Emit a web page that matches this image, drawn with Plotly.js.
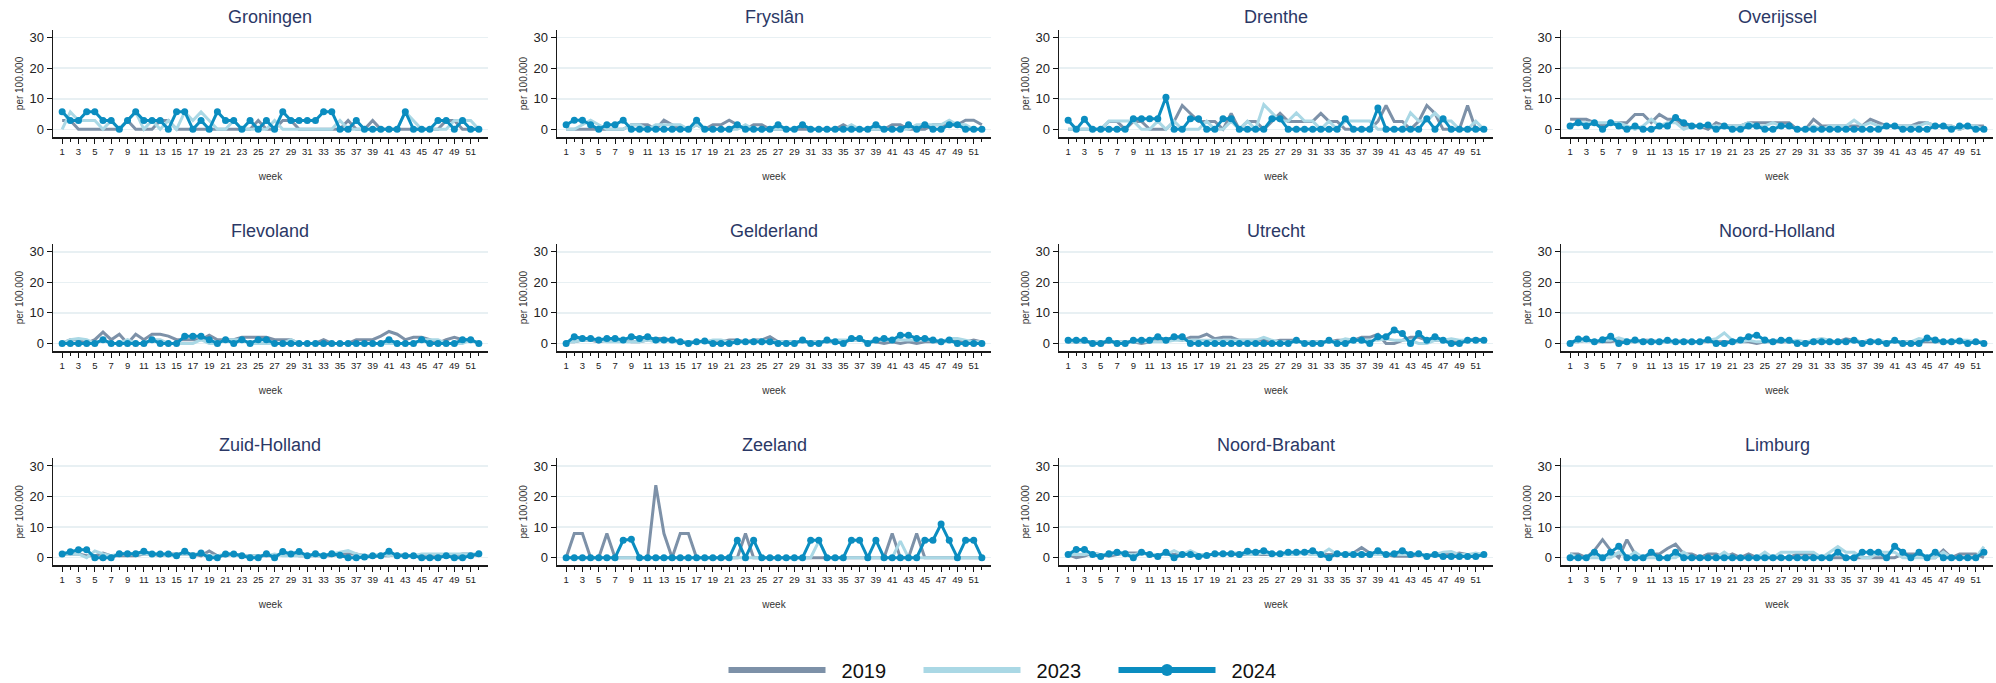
<!DOCTYPE html>
<html>
<head>
<meta charset="utf-8">
<script src="https://cdn.plot.ly/plotly-3.0.1.min.js"></script>
<style>
  html, body { margin: 0; padding: 0; background: #fff; }
  #chart { width: 1996px; height: 683px; }
</style>
</head>
<body>
<div id="chart"></div>
<script>
// ---------------- DATA ----------------
const weeks = [1,2,3,4,5,6,7,8,9,10,11,12,13,14,15,16,17,18,19,20,21,22,23,24,25,26,27,28,29,30,31,32,33,34,35,36,37,38,39,40,41,42,43,44,45,46,47,48,49,50,51,52];
const majorTickWeeks = [1,3,5,7,9,11,13,15,17,19,21,23,25,27,29,31,33,35,37,39,41,43,45,47,49,51];
const minorTickWeeks = [2,4,6,8,10,12,14,16,18,20,22,24,26,28,30,32,34,36,38,40,42,44,46,48,50,52];
const yTicks = [0, 10, 20, 30];
const years = ['2019', '2023', '2024'];
const regions = ['Groningen','Fryslân','Drenthe','Overijssel','Flevoland','Gelderland','Utrecht','Noord-Holland','Zuid-Holland','Zeeland','Noord-Brabant','Limburg'];

const groningen2019 = [2.9,2.9,0,0,0,0,0,0,2.9,0,0,0,2.9,2.9,0,0,0,0,0,0,0,0,0,0,2.9,0,0,2.9,2.9,0,0,0,0,0,0,2.9,0,0,2.9,0,0,0,0,0,0,0,0,2.9,2.9,0,0,0];
const groningen2023 = [0,5.7,2.9,2.9,2.9,0,2.9,0,2.9,5.7,0,2.9,0,2.9,0,5.7,2.9,5.7,2.9,0,0,2.9,0,0,0,0,2.9,0,0,0,0,0,0,0,2.9,0,0,0,0,0,0,0,5.7,2.9,0,0,0,0,2.9,2.9,2.9,0];
const groningen2024 = [5.8,2.9,2.9,5.8,5.8,2.9,2.9,0,2.9,5.8,2.9,2.9,2.9,0,5.8,5.8,0,2.9,0,5.8,2.9,2.9,0,2.9,0,2.9,0,5.8,2.9,2.9,2.9,2.9,5.8,5.8,0,0,2.9,0,0,0,0,0,5.8,0,0,0,2.9,2.9,0,2.9,0,0];

const fryslan2019 = [0,0,0,0,0,0,0,0,1.5,1.5,1.5,0,3.0,1.5,0,0,1.5,0,1.5,1.5,3.0,1.5,0,1.5,1.5,0,0,0,0,0,0,0,0,0,1.5,0,0,0,0,0,1.5,1.5,0,0,0,1.5,1.5,1.5,1.5,3.0,3.0,1.5];
const fryslan2023 = [0,0,1.5,3.0,1.5,0,0,0,1.5,1.5,0,1.5,1.5,1.5,1.5,0,1.5,0,0,0,0,0,1.5,0,0,0,0,0,0,1.5,0,0,0,0,0,1.5,0,0,0,0,0,0,0,1.5,1.5,1.5,1.5,3.0,1.5,1.5,0,0];
const fryslan2024 = [1.5,3.0,3.0,1.5,0,1.5,1.5,3.0,0,0,0,0,0,0,0,0,3.0,0,0,0,0,1.5,0,0,0,0,1.5,0,0,1.5,0,0,0,0,0,0,0,0,1.5,0,0,0,1.5,0,1.5,0,0,1.5,1.5,0,0,0];

const drenthe2019 = [0,0,0,0,0,2.6,2.6,0,2.6,2.6,0,0,0,2.6,7.8,5.2,2.6,2.6,2.6,0,5.2,0,2.6,2.6,0,2.6,5.2,2.6,2.6,2.6,2.6,5.2,2.6,2.6,0,0,0,0,2.6,7.8,2.6,2.6,0,2.6,7.8,5.2,0,0,0,7.8,0,0];
const drenthe2023 = [0,0,0,0,0,2.7,2.7,2.7,2.7,0,0,2.7,0,2.7,0,0,0,2.7,0,0,2.7,0,2.7,0,8.1,5.4,2.7,2.7,5.4,2.7,2.7,0,2.7,0,2.7,2.7,2.7,2.7,0,0,0,0,5.4,2.7,2.7,5.4,2.7,2.7,0,0,2.7,0];
const drenthe2024 = [3.0,0,3.3,0,0,0,0,0,3.5,3.5,3.5,3.5,10.5,0,0,3.5,3.5,0,0,3.5,3.5,0,0,0,0,3.5,3.5,0,0,0,0,0,0,0,3.5,0,0,0,7.0,0,0,0,0,0,3.5,0,3.5,0,0,0,0,0];

const overijssel2019 = [3.3,3.3,3.3,2.2,1.1,2.2,2.2,2.2,4.9,4.9,2.2,4.9,3.3,3.3,1.1,1.1,1.1,0,2.2,1.1,1.1,1.1,2.2,2.2,2.2,2.2,2.2,2.2,0,0,3.3,1.1,1.1,1.1,1.1,1.1,1.1,3.3,2.2,1.1,1.1,1.1,1.1,2.2,2.2,1.1,1.1,1.1,0,1.1,1.1,1.1];
const overijssel2023 = [1.1,2.2,2.2,2.2,2.2,2.2,2.2,1.1,0,1.1,3.3,1.1,2.2,2.2,0,1.1,1.1,1.1,1.1,1.1,1.1,1.1,2.2,1.1,1.1,2.2,1.1,1.1,0,0,1.1,0,1.1,1.1,1.1,3.0,1.1,2.2,1.1,1.1,1.1,1.1,1.1,1.1,2.2,1.1,1.1,1.1,0,1.1,1.1,0];
const overijssel2024 = [1.1,2.2,1.1,2.2,0,2.2,1.1,0,1.1,0,0,1.1,1.1,3.9,2.2,1.1,1.1,1.4,0,1.1,0,0,1.1,1.1,0,0,1.1,1.1,0,0,0,0,0,0,0,0,0,0,0,1.1,1.1,0,0,0,0,1.1,1.1,0,1.1,1.1,0,0];

const flevoland2019 = [0,1.2,1.2,0,1.2,3.7,1.2,3.0,0,3.0,1.2,3.0,3.0,2.4,1.2,1.2,1.2,1.2,2.7,1.2,1.2,1.2,2.0,2.0,2.0,2.0,1.2,1.2,1.2,0,0,0,1.2,0,0,0,1.2,1.2,1.2,2.4,3.9,3.0,1.2,2.0,2.0,1.2,0,1.2,2.0,1.2,1.2,0];
const flevoland2023 = [0,1.2,1.6,1.2,0,1.2,0,0,1.2,0,0,1.2,1.2,0,0,0,0,1.2,0,0,1.2,1.2,1.2,0,0,0,0,0,1.2,0,0,0,0,0,0,0,0,0,0,0,0,0,0,0,1.2,1.2,1.2,0,0,0,1.2,0];
const flevoland2024 = [0,0,0,0,0,1.2,0,0,0,0,0,1.2,0,0,0,2.3,2.3,2.3,1.2,0,1.2,0,1.2,0,1.2,1.2,0,0,0,0,0,0,0,0,0,0,0,0,0,0,1.2,0,0,0,1.2,0,0,0,0,1.2,1.2,0];

const gelderland2019 = [0.5,0.5,1.1,1.1,0.5,1.1,1.1,1.1,0.5,0.5,1.1,1.6,1.6,1.1,0.5,0.5,0.5,0.5,0.5,0.5,1.1,1.1,0.5,1.1,1.1,2.2,0.5,0.5,0.5,0.5,0.5,0.5,0.5,0.5,0.5,1.1,1.1,0.5,0.5,0,0.5,0,0.5,0,0.5,0.5,0.5,1.1,1.1,0.5,1.1,0.5];
const gelderland2023 = [0.5,0.5,1.1,1.1,1.1,0.5,0.5,0.5,0.5,0.5,1.1,0.5,1.1,0.5,0.5,0.5,0.5,0.5,1.1,1.1,0.5,0.5,0.5,0.5,1.1,0.5,0.5,0.5,0.5,0.5,0.5,0.5,0.5,1.1,1.1,1.1,1.1,0.5,1.1,1.1,1.1,1.1,1.1,1.1,1.1,1.1,0.5,1.6,1.6,1.1,0.5,0.5];
const gelderland2024 = [0,2.2,1.6,1.6,1.1,1.6,1.6,1.1,2.2,1.6,2.2,1.1,1.1,1.1,0.5,0,0.5,0.8,0,0,0,0.5,0.5,0.5,0.5,0.5,0,0,0,1.1,0,0,1.1,0.5,0,1.6,1.6,0,1.1,1.6,1.1,2.7,2.7,1.6,1.6,1.1,0.5,1.1,0,0,0,0];

const utrecht2019 = [0.5,0.5,0.5,0.5,0,0.5,0.5,0.5,0.5,0,0.5,1.0,1.5,1.5,1.0,2.0,2.0,3.0,1.5,2.0,2.0,1.0,1.0,1.0,1.0,0.5,1.0,1.0,1.0,0,0.5,0.5,0.5,1.0,1.0,1.0,2.0,2.0,3.0,0,0,1.0,2.0,2.0,1.0,1.0,1.0,1.0,0.5,1.0,1.5,1.0];
const utrecht2023 = [0.5,0.5,0.5,0.5,0.5,0.5,0.5,0.5,0.5,0.5,0.5,0.5,0.5,1.0,1.0,1.0,1.0,1.0,1.0,1.0,1.0,1.0,1.0,1.0,2.0,1.0,0.5,0.5,0.5,0.5,0.5,0.5,0.5,0.5,1.5,1.0,1.0,1.0,1.0,1.5,1.0,1.0,1.0,0,0,1.0,1.0,1.5,1.0,1.0,1.0,1.0];
const utrecht2024 = [1.0,1.0,1.0,0,0,1.0,0,0,1.0,1.0,1.0,2.2,1.0,2.2,2.2,0,0,0,0,0,0,0,0,0,0,0,0,0,1.0,0,0,0,1.0,0,0,1.0,1.0,0,2.2,2.2,4.4,3.2,0,3.2,1.0,2.2,1.0,0,0,1.0,1.0,1.0];

const noordHolland2019 = [0.5,0.5,1.0,0.5,0.5,0.5,1.0,0.5,0.5,1.0,1.0,0.5,0.5,0.5,1.0,0.5,0.5,0.5,0.5,0.5,0.5,0.5,0.5,0,0.5,0.5,0.5,0.5,0.5,0.5,0.5,0.5,0.5,0.5,1.5,1.0,0.5,1.0,0.5,0.5,0.5,0.5,0.5,0.5,0.5,0.5,0.5,0.5,1.0,0.5,0.5,0.5];
const noordHolland2023 = [0.5,0.5,1.0,0.5,1.0,1.0,1.8,1.0,0.5,0.5,1.0,0.5,0.5,0.5,1.0,0.5,0.5,1.0,1.5,3.4,1.0,0.5,1.0,0.5,0.5,1.0,1.0,0.5,1.0,0.5,1.0,1.6,1.0,0.5,0.5,1.0,0.5,0.5,1.0,0.5,0.5,0.5,0.5,1.6,1.0,1.0,0.5,1.0,1.0,1.0,0.5,0.5];
const noordHolland2024 = [0,1.4,1.4,0.5,1.2,2.3,0,0.5,1.1,0.5,0.5,0.5,1.0,0.5,0.5,0.5,0.5,1.2,0,0,0.5,1.1,2.2,2.7,1.1,0.5,1.0,1.0,0,0,0.5,0.5,0.5,0.5,0.5,1.0,0,0.5,0.5,0,1.0,0,0,0,1.8,1.1,0.5,0.5,0.8,0,0.5,0];

const zuidHolland2019 = [1.2,1.2,1.2,0.6,0.6,1.5,0.6,0.6,0.6,0.6,1.2,1.2,0.6,1.2,1.2,1.2,1.2,0.6,2.2,0.6,0.6,1.2,0.6,0.6,0.6,0.6,0.6,1.2,1.2,0.6,0.6,0.6,0.6,0.6,1.2,1.2,1.2,0.6,0.6,0.6,0.6,1.2,0.6,0.6,0.6,0.6,0.6,0.6,0.6,1.2,1.2,0.6];
const zuidHolland2023 = [1.2,1.2,1.2,0,2.2,1.2,0.6,1.2,1.2,1.2,1.2,1.2,1.2,0.6,1.2,1.2,1.2,1.2,0.6,0.6,1.2,1.2,0.6,0.6,0.6,0.6,1.2,0.6,0.6,0.6,0.6,0.6,0.6,1.2,1.8,2.3,1.2,0.6,0.6,1.2,0.6,1.2,0.6,0.6,1.2,1.2,1.2,1.2,1.2,1.2,1.2,1.2];
const zuidHolland2024 = [1.2,1.9,2.6,2.6,0,0,0,1.3,1.3,1.3,2.1,1.2,1.2,1.2,0.6,2.1,0.6,1.5,0,0,1.2,1.2,0.6,0,0,1.3,0,2.0,1.2,2.0,0.6,1.3,0.6,1.3,0.8,0,0,0.2,0.6,0.6,2.1,0.6,0.6,0.6,0,0,0,0.6,0,0,0.6,1.3];

const zeeland2019 = [0,7.9,7.9,0,0,7.9,0,0,0,0,0,23.7,7.9,0,7.9,7.9,0,0,0,0,0,0,7.9,0,0,0,0,0,0,0,0,0,0,0,0,0,0,0,0,0,7.9,0,0,7.9,0,0,0,0,0,0,0,0];
const zeeland2023 = [0,0,0,0,0,0,0,0,0,0,0,0,0,0,0,0,0,0,0,0,0,0,0,0,0,0,0,0,0,0,0,5.4,0,0,0,0,0,0,0,0,0,5.4,0,0,0,0,0,0,0,0,0,0];
const zeeland2024 = [0,0,0,0,0,0,0,5.7,6.0,0,0,0,0,0,0,0,0,0,0,0,0,5.7,0,5.7,0,0,0,0,0,0,5.7,5.7,0,0,0,5.7,5.7,0,5.7,0,0,0,0,0,5.7,5.7,11.0,5.7,0,5.7,5.7,0];

const noordBrabant2019 = [1.0,0,0.5,1.5,1.0,0.5,1.0,1.5,1.5,1.5,1.0,1.0,1.0,1.0,1.0,1.0,1.0,1.0,1.0,1.0,1.5,1.0,1.0,1.0,1.0,1.0,1.0,1.0,1.5,1.5,1.0,1.0,1.0,1.0,1.0,1.5,3.3,1.5,1.0,1.0,0.5,0.5,0.5,1.0,1.0,1.0,1.0,1.0,1.5,1.0,0.5,1.0];
const noordBrabant2023 = [1.0,1.0,1.0,1.5,1.0,1.0,1.5,1.0,1.0,1.5,1.0,1.0,1.0,2.3,1.0,2.3,1.0,1.0,1.0,1.0,1.5,1.5,1.0,1.0,1.5,1.0,1.0,1.0,1.0,1.5,1.0,1.0,2.8,1.0,1.5,1.5,1.5,1.0,1.0,1.0,1.0,1.0,1.0,1.0,1.0,1.0,1.8,2.0,1.0,1.0,1.5,1.0];
const noordBrabant2024 = [1.0,2.7,2.7,1.0,0.4,1.3,1.8,1.3,0,1.8,1.0,0.4,1.8,0,1.0,1.0,0.4,0.7,1.3,1.3,1.3,1.0,2.1,1.8,2.3,1.3,1.3,1.8,1.8,1.8,2.3,1.0,0,1.3,1.0,1.0,1.0,1.0,2.3,1.0,1.3,2.3,1.0,1.3,0.4,1.0,0.4,0.4,0.4,0.4,0.4,1.0];

const limburg2019 = [1.2,1.2,0,2.4,5.9,2.4,0,5.9,1.2,0,1.2,1.2,3.0,4.4,1.2,1.2,0,1.2,1.2,0,1.2,0,1.2,0,0,0,0,0,1.2,1.2,1.2,0,0,0,0,0,0,0,0,0,0,1.2,1.2,1.2,0,0,2.5,0,1.2,1.2,1.2,0];
const limburg2023 = [1.2,0,0,0,0,0,1.8,0,1.8,0,0,0,0,0,1.8,0,0,0,0,1.8,0,0,0,0,1.8,0,1.8,1.8,1.8,1.8,1.8,0,1.8,3.6,1.8,1.8,0,0,1.8,1.8,1.8,0,0,0,0,0,1.8,0,0,0,0,3.6];
const limburg2024 = [0,0,0,1.8,0,1.8,3.7,0,0,0,1.8,0,0,1.8,0,0,0,0,0,0,0,0,0,0,0,0,0,0,0,0,0,0,0,1.8,0,0,1.8,1.8,1.8,0,3.7,1.8,0,1.8,0,1.8,0,0,0,0,0,1.8];

const series2019 = [groningen2019, fryslan2019, drenthe2019, overijssel2019, flevoland2019, gelderland2019, utrecht2019, noordHolland2019, zuidHolland2019, zeeland2019, noordBrabant2019, limburg2019];
const series2023 = [groningen2023, fryslan2023, drenthe2023, overijssel2023, flevoland2023, gelderland2023, utrecht2023, noordHolland2023, zuidHolland2023, zeeland2023, noordBrabant2023, limburg2023];
const series2024 = [groningen2024, fryslan2024, drenthe2024, overijssel2024, flevoland2024, gelderland2024, utrecht2024, noordHolland2024, zuidHolland2024, zeeland2024, noordBrabant2024, limburg2024];

// ---------------- STYLE / LAYOUT ----------------
const W = 1996, H = 683;
const FONT = 'Liberation Sans, Arial, Helvetica, sans-serif';
const C19 = '#7d91a8', C23 = '#aad8e5', C24 = '#0b8dc0';
const colPx = [[53, 488], [557, 991], [1059, 1493], [1561, 1993]];
const rowPx = [[30, 137], [244.3, 351], [458.3, 565.3]];
const NBSP = '\u00a0\u00a0';

const traces = [];
const layout = {
  width: W, height: H,
  margin: {l: 0, r: 0, t: 0, b: 0, autoexpand: false},
  paper_bgcolor: '#ffffff',
  plot_bgcolor: '#ffffff',
  font: {family: FONT, color: '#222'},
  showlegend: true,
  legend: {
    orientation: 'h', x: 0.5 + 18 / W, xanchor: 'center',
    y: 1 - 670 / H, yanchor: 'middle',
    font: {family: FONT, size: 20, color: '#111'},
    itemwidth: 97,
    entrywidth: 83,
    entrywidthmode: 'pixels',
    traceorder: 'normal',
    bgcolor: 'rgba(0,0,0,0)'
  },
  annotations: []
};

regions.forEach((name, i) => {
  const r = Math.floor(i / 4), c = i % 4;
  const n = i + 1;
  const xa = 'x' + (n === 1 ? '' : n), ya = 'y' + (n === 1 ? '' : n);
  const xKey = 'xaxis' + (n === 1 ? '' : n), yKey = 'yaxis' + (n === 1 ? '' : n);
  const xd = [colPx[c][0] / W, colPx[c][1] / W];
  const yd = [1 - rowPx[r][1] / H, 1 - rowPx[r][0] / H];

  layout[xKey] = {
    domain: xd, anchor: ya,
    range: [-0.12, 53.12],
    tickmode: 'array', tickvals: majorTickWeeks, ticktext: majorTickWeeks.map(String),
    ticks: 'outside', ticklen: 5, tickwidth: 1, tickcolor: '#111',
    minor: {tickmode: 'array', tickvals: minorTickWeeks, ticks: 'outside', ticklen: 3, tickwidth: 1, tickcolor: '#111', showgrid: false},
    tickfont: {family: FONT, size: 9.5, color: '#222'},
    showline: true, linecolor: '#1a1a1a', linewidth: 1.5,
    showgrid: false, zeroline: false,
    fixedrange: true,
    title: {text: 'week', font: {family: FONT, size: 10, color: '#333'}, standoff: 17}
  };
  layout[yKey] = {
    domain: yd, anchor: xa,
    range: [-2.5, 32.5],
    tickmode: 'array', tickvals: yTicks,
    ticks: 'outside', ticklen: 5, tickwidth: 1, tickcolor: '#111',
    tickfont: {family: FONT, size: 13, color: '#222'},
    showline: true, linecolor: '#1a1a1a', linewidth: 1.5,
    showgrid: true, gridcolor: '#e8f0f3', gridwidth: 1.5,
    zeroline: false,
    fixedrange: true,
    title: {text: 'per 100.000', font: {family: FONT, size: 10, color: '#333'}, standoff: 4}
  };
  layout.annotations.push({
    text: name, xref: 'paper', yref: 'paper',
    x: (xd[0] + xd[1]) / 2, y: 1 - (rowPx[r][0] - 13) / H,
    xanchor: 'center', yanchor: 'middle', showarrow: false,
    font: {family: FONT, size: 18, color: '#2b3866'}
  });

  traces.push({
    x: weeks, y: series2019[i], xaxis: xa, yaxis: ya, type: 'scatter', mode: 'lines',
    line: {color: C19, width: 3}, name: years[0], showlegend: false, hoverinfo: 'skip'
  });
  traces.push({
    x: weeks, y: series2023[i], xaxis: xa, yaxis: ya, type: 'scatter', mode: 'lines',
    line: {color: C23, width: 3}, name: years[1], showlegend: false, hoverinfo: 'skip'
  });
  traces.push({
    x: weeks, y: series2024[i], xaxis: xa, yaxis: ya, type: 'scatter', mode: 'lines+markers',
    line: {color: C24, width: 3}, marker: {color: C24, size: 7}, name: years[2], showlegend: false, hoverinfo: 'skip'
  });
});

// legend-only entries (thicker keys like the reference)
traces.push({x: [null], y: [null], type: 'scatter', mode: 'lines', line: {color: C19, width: 6}, name: NBSP + years[0], showlegend: true});
traces.push({x: [null], y: [null], type: 'scatter', mode: 'lines', line: {color: C23, width: 6}, name: NBSP + years[1], showlegend: true});
traces.push({x: [null], y: [null], type: 'scatter', mode: 'lines+markers', line: {color: C24, width: 6}, marker: {color: C24, size: 12}, name: NBSP + years[2], showlegend: true});

Plotly.newPlot('chart', traces, layout, {displayModeBar: false, staticPlot: true});
</script>
</body>
</html>
